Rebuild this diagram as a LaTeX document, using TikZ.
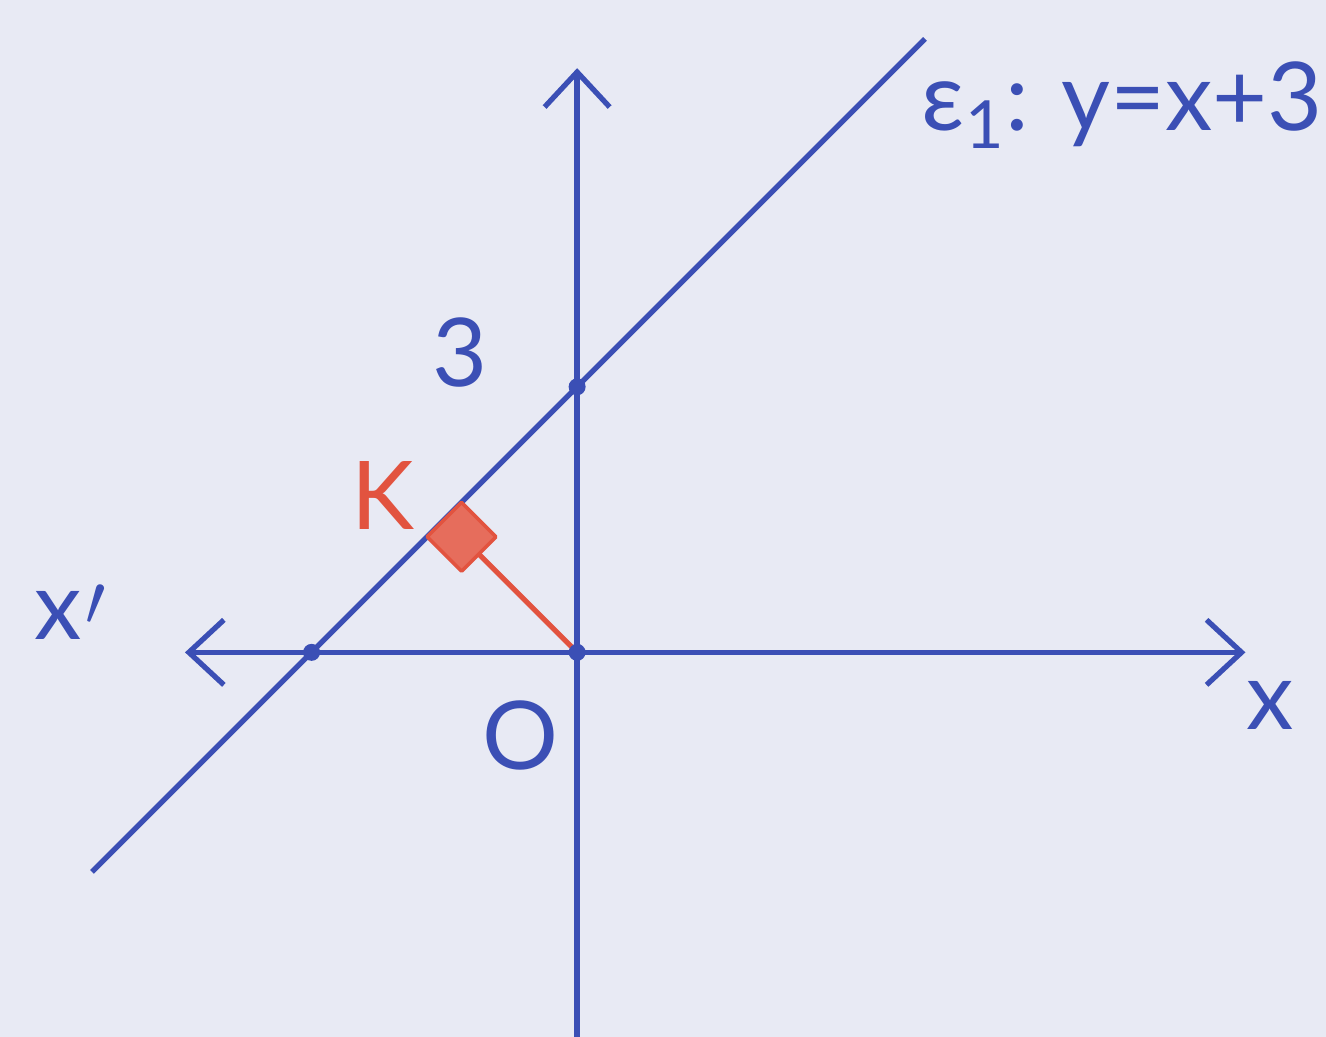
\documentclass[tikz,border=0pt]{standalone}
\usepackage{fontspec}
\setmainfont{Lato}
\usetikzlibrary{arrows.meta}
\definecolor{penblue}{HTML}{3B4FB5}
\definecolor{penred}{HTML}{E2533F}
\definecolor{paperbg}{HTML}{E8EAF4}
\begin{document}
\begin{tikzpicture}[
  x=0.885cm, y=0.885cm,
  >={Straight Barb[length=3.5mm, width=6.5mm, line width=1.5pt]},
  every node/.style={font=\fontsize{27}{32}\selectfont},
  pen/.style={penblue, line width=1.5pt},
  dot/.style={circle, fill=penblue, inner sep=0pt, minimum size=1.7mm},
  lbl/.style={text=penblue, inner sep=0pt},
  perp/.style={penred, line width=1.5pt}
]
\fill[paperbg] (-6.52,-4.34) rectangle (8.46,7.37);
\useasboundingbox (-6.52,-4.34) rectangle (8.46,7.37);
\coordinate (O) at (0,0);
\coordinate (xl) at (-4.43,0);
\coordinate (xr) at (7.55,0);
\coordinate (yb) at (0,-4.34);
\coordinate (yt) at (0,6.6);
\coordinate (eb) at (-5.48,-2.48);
\coordinate (et) at (3.93,6.93);
\coordinate (K) at (-1.5,1.5);
\draw[pen, <->] (xl) -- (xr);
\draw[pen, ->] (yb) -- (yt);
\draw[pen] (eb) -- (et);
\draw[perp] (O) -- (K);
\draw[penred, fill=penred!85, line width=1pt, line join=round]
  (-1.694,1.306) -- (-1.306,1.694) -- (-0.917,1.305) -- (-1.305,0.917) -- cycle;
\node[dot] (A) at (0,3) {};
\node[dot] (B) at (-3,0) {};
\node[dot] (Odot) at (O) {};
\node[lbl] (three) at (-1.32,3.39) {3};
\node[lbl, text=penred] (Klbl) at (-2.19,1.77) {K};
\node[lbl] (xprime) at (-5.73,0.45) {x\kern1pt\raisebox{4pt}{\fontsize{22}{26}\selectfont$\prime$}};
\node[lbl] (xlbl) at (7.83,-0.6) {x};
\node[lbl] (Olbl) at (-0.64,-0.94) {O};
\node[lbl] (eq) at (6.16,6.18) {ε\textsubscript{1}: y=x+3};
\end{tikzpicture}
\end{document}
